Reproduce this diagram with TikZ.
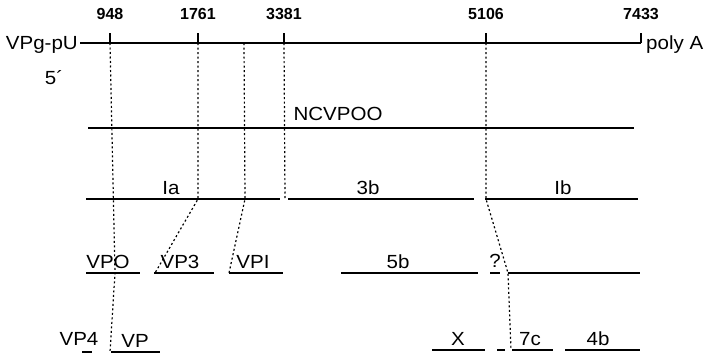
\documentclass[tikz,border=0pt]{standalone}
\usepackage{fontspec}
\setmainfont{Liberation Sans}[FakeStretch=1.08]
\newfontfamily\numfont{Liberation Sans}
\begin{document}
\begin{tikzpicture}[x=1pt,y=-1pt,
        genome/.style={line width=2.4pt},
        seg/.style={line width=1.5pt},
        guide/.style={line width=1.2pt, dash pattern=on 2pt off 2.5pt},
        lbl/.style={font=\fontsize{19}{19}\selectfont, anchor=base, inner sep=0pt},
        num/.style={font=\numfont\fontsize{16}{16}\selectfont\bfseries, anchor=base, inner sep=0pt}]
    \useasboundingbox (0,0) rectangle (712,357);

    % Genome map with cleavage sites
    \foreach \pos/\val in {110/948, 198/1761, 284/3381, 486/5106, 641/7433} {
        \coordinate (g\val) at (\pos,43);
        \draw[genome] (g\val) -- ++(0,-10);
        \node[num] (n\val) at (\pos,19) {\val};
    }
    \coordinate (gmid) at (244,43);
    \node[lbl, anchor=base east] (vpg) at (78,49) {VPg-pU};
    \node[lbl, anchor=base west] (polyA) at (646,49) {poly A};
    \node[lbl] (five) at (54,84) {5´};
    \draw[genome] ([xshift=2pt]vpg.east |- g948) -- (g7433);

    % Precursor and product segments
    \draw[seg] (88,128) -- (634,128);
    \node[lbl] (ncvpoo) at (338,120) {NCVPOO};
    \foreach \xa/\xb/\y/\lx/\txt/\nm in {86/280/199/171/Ia/ia, 288/474/199/368/3b/pb, 485/638/199/563/Ib/ib,
            86/140/273/108/VPO/vpo, 154/214/273/180/VP3/vpt, 229/283/273/253/VPI/vpi, 341/478/273/398/5b/fb,
            111/160/352/135/VP/vp, 432/485/350/458/X/px, 512/553/350/530/7c/sc, 565/640/350/598/4b/qb} {
        \draw[seg] (\xa,\y) -- (\xb,\y);
        \node[lbl] (\nm) at (\lx,\y-5) {\txt};
    }
    \draw[seg, line width=2pt] (508,273) -- (640,273);
    \draw[seg] (490,273) -- (500,273);
    \node[lbl] (unk) at (495,267) {?};
    \draw[seg] (82,352) -- (92,352);
    \node[lbl] (vpf) at (79,345) {VP4};
    \draw[seg] (497,350) -- (505,350);

    % Dotted guides from sites to products
    \coordinate (a1) at (115,273); \coordinate (a2) at (110,352);
    \coordinate (b1) at (198,199); \coordinate (b2) at (155,273);
    \coordinate (c1) at (245,199); \coordinate (c2) at (229,273);
    \coordinate (d1) at (285,199);
    \coordinate (e1) at (486,199); \coordinate (e2) at (508,273); \coordinate (e3) at (511,350);
    \draw[guide] (g948) -- (a1) -- (a2);
    \draw[guide] (g1761) -- (b1) -- (b2);
    \draw[guide] (gmid) -- (c1) -- (c2);
    \draw[guide] (g3381) -- (d1);
    \draw[guide] (g5106) -- (e1) -- (e2) -- (e3);
\end{tikzpicture}
\end{document}
